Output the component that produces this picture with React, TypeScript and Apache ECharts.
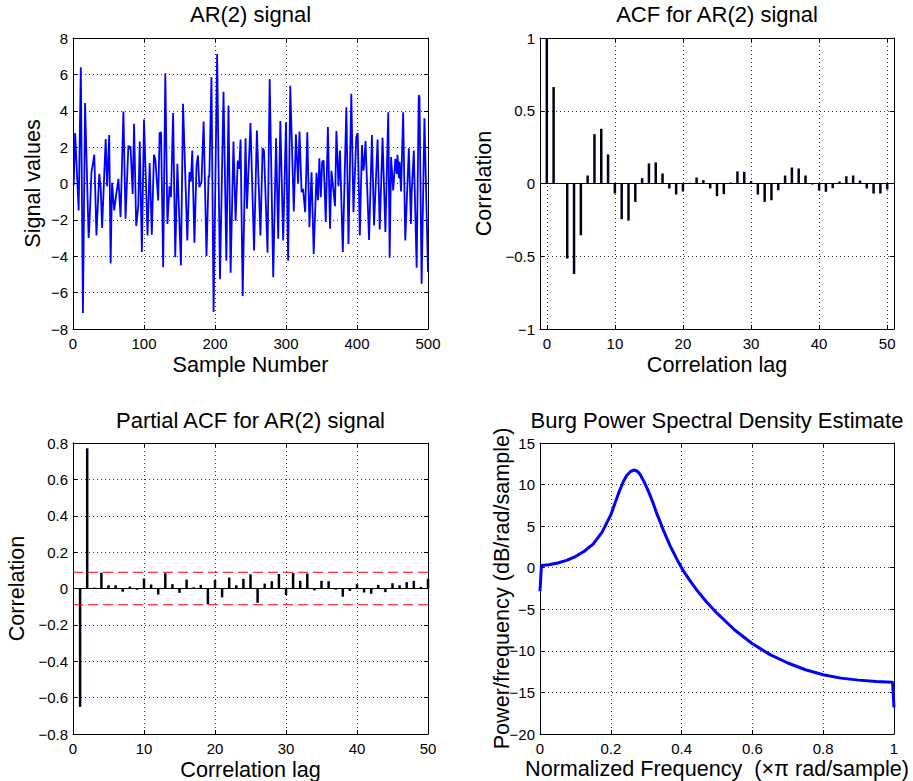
import React, { useEffect, useRef } from 'react';
import * as echarts from 'echarts';

// ---------- data ----------
const signalSamples = [
  1, 3, 8, 11, 14, 17, 22, 23, 26, 28,
  30, 33, 37, 39, 41, 46, 48, 51, 53, 55,
  58, 61, 64, 67, 71, 74, 78, 79, 81, 84,
  86, 89, 92, 94, 97, 100, 105, 108, 111, 114,
  116, 120, 122, 124, 127, 130, 133, 136, 138, 141,
  144, 147, 152, 155, 161, 164, 166, 168, 171, 174,
  176, 178, 181, 184, 188, 191, 192, 195, 198, 203,
  207, 212, 216, 219, 222, 226, 229, 232, 234, 236,
  239, 243, 245, 250, 255, 259, 264, 267, 269, 274,
  277, 282, 286, 289, 292, 296, 300, 303, 306, 311,
  314, 317, 319, 322, 324, 327, 330, 333, 336, 339,
  343, 345, 347, 349, 351, 353, 356, 359, 362, 364,
  369, 371, 374, 376, 380, 385, 388, 392, 395, 399,
  401, 404, 407, 409, 410, 412, 417, 421, 424, 429,
  432, 436, 440, 444, 446, 448, 451, 454, 456, 457,
  459, 460, 462, 465, 468, 473, 476, 477, 480, 484,
  487, 488, 491, 495, 500,
];
const signalValues = [
  -0.11, 2.78, -1.48, 6.39, -7.12, 4.43, -3.0, -2.42, 0.62, 1.08,
  1.58, -2.86, 0.53, -0.2, -2.45, 2.45, -0.15, 2.67, -4.4, 0.04,
  -1.48, -0.57, 0.26, -1.85, 3.96, -1.94, 2.09, 1.9, 2.05, -0.57,
  3.28, -2.34, -1.21, 2.31, -3.77, 3.52, -2.86, 1.12, -2.82, 1.58,
  1.32, -0.93, 2.78, 2.82, -4.6, 6.06, -2.23, -0.15, -0.75, 3.88,
  -4.05, 1.08, -4.5, 4.38, -3.13, 0.62, 0.1, 1.81, -3.26, 0.99,
  1.54, -0.2, 0.07, 3.41, -3.99, 0.44, 0.35, 5.84, -7.07, 7.12,
  -5.27, 5.05, -4.25, 4.29, -4.91, 2.31, -2.05, 1.26, 0.8, 2.42,
  -6.19, 2.49, -1.39, 3.32, -3.68, 2.91, -2.86, 1.94, 1.81, -3.81,
  5.75, -5.15, 2.49, -3.04, 3.44, -3.13, 3.37, -4.25, 5.38, -1.54,
  2.71, 0.0, 2.86, -0.48, -0.3, -1.58, 2.82, -2.4, 0.62, -3.88,
  0.59, -0.92, 1.39, -0.75, 1.21, 1.26, -2.12, 3.1, -2.49, 0.7,
  -1.25, 2.88, -0.15, 1.81, -3.77, 4.19, -3.32, 4.93, -1.58, 2.55,
  2.77, -2.86, 2.12, 0.71, 1.0, 2.34, -3.11, 2.67, -2.31, 2.42,
  -2.53, 2.51, -2.67, 3.92, -4.08, 1.45, -0.38, 1.36, 0.53, 1.58,
  0.29, 1.2, -0.44, 3.92, -3.13, 1.94, -2.22, -0.5, 1.81, -4.63,
  4.87, 4.74, -5.51, 3.59, -4.87,
];

const acfLags = [
  0, 1, 2, 3, 4, 5, 6, 7, 8, 9, 10, 11, 12, 13, 14, 15, 16, 17, 18, 19, 20,
  21, 22, 23, 24, 25, 26, 27, 28, 29, 30, 31, 32, 33, 34, 35, 36, 37, 38, 39, 40,
  41, 42, 43, 44, 45, 46, 47, 48, 49, 50,
];
const acfValues = [
  1.0, 0.663, 0.0, -0.516, -0.622, -0.356, 0.055, 0.339, 0.376, 0.2,
  -0.069, -0.245, -0.255, -0.126, 0.037, 0.138, 0.145, 0.069, -0.034, -0.076,
  -0.055, 0.005, 0.041, 0.023, -0.034, -0.087, -0.073, 0.007, 0.083, 0.08,
  0.016, -0.076, -0.126, -0.115, -0.046, 0.055, 0.11, 0.103, 0.055, -0.007,
  -0.048, -0.057, -0.032, 0.014, 0.05, 0.055, 0.021, -0.034, -0.069, -0.069,
  -0.041,
];

const pacfLags = [
  1, 2, 3, 4, 5, 6, 7, 8, 9, 10, 11, 12, 13, 14, 15, 16, 17, 18, 19, 20,
  21, 22, 23, 24, 25, 26, 27, 28, 29, 30, 31, 32, 33, 34, 35, 36, 37, 38, 39, 40,
  41, 42, 43, 44, 45, 46, 47, 48, 49, 50,
];
const pacfValues = [
  -0.651, 0.771, 0.005, 0.087, 0.018, 0.018, -0.018, 0.011, -0.007, 0.055,
  0.022, -0.033, 0.084, 0.024, -0.024, 0.049, 0.007, 0.02, -0.087, 0.047,
  -0.049, 0.06, 0.018, 0.053, 0.078, -0.078, 0.027, 0.04, 0.08, -0.036,
  0.085, 0.042, 0.082, -0.011, 0.042, 0.04, -0.007, -0.045, -0.013, 0.024,
  -0.022, -0.029, 0.02, -0.02, 0.029, 0.018, 0.035, 0.042, 0.009, 0.053,
];
const pacfBoundUpper = 0.0894;
const pacfBoundLower = -0.0894;
const pacfBoundLags = [0, 50];

const psdFreq = [
  0, 0.004, 0.025, 0.05, 0.075, 0.1, 0.125, 0.15, 0.175, 0.2,
  0.213, 0.226, 0.236, 0.245, 0.255, 0.265, 0.275, 0.283, 0.292, 0.302,
  0.311, 0.321, 0.33, 0.34, 0.349, 0.368, 0.387, 0.406, 0.425, 0.443,
  0.47, 0.5, 0.55, 0.6, 0.65, 0.7, 0.75, 0.8, 0.85, 0.9,
  0.95, 0.996, 1.0,
];
const psdPower = [
  -2.83, 0.28, 0.36, 0.57, 0.89, 1.34, 1.98, 2.83, 4.25, 6.35,
  7.9, 9.4, 10.4, 11.1, 11.55, 11.75, 11.6, 11.2, 10.5, 9.6,
  8.7, 7.6, 6.5, 5.45, 4.45, 2.6, 1.0, -0.45, -1.65, -2.7,
  -4.1, -5.47, -7.49, -9.15, -10.45, -11.46, -12.27, -12.87, -13.28, -13.52,
  -13.68, -13.77, -16.8,
];

const titles = [
  'AR(2) signal',
  'ACF for AR(2) signal',
  'Partial ACF for AR(2) signal',
  'Burg Power Spectral Density Estimate',
];
const xNames = [
  'Sample Number',
  'Correlation lag',
  'Correlation lag',
  'Normalized Frequency  (\u00d7\u03c0 rad/sample)',
];
const yNames = [
  'Signal values',
  'Correlation',
  'Correlation',
  'Power/frequency (dB/rad/sample)',
];

// ---------- styling ----------
const FONT = "'Liberation Sans', Arial, Helvetica, sans-serif";
const TITLE_SIZE = 22;
const NAME_SIZE = 21.6;
const GRIDS = [
  { left: 73, top: 38, width: 355, height: 291 },
  { left: 540, top: 38, width: 354, height: 291 },
  { left: 73, top: 443, width: 355, height: 291 },
  { left: 540, top: 443, width: 354, height: 291 },
];

function fmtNum(v: number): string {
  const r = Math.round(v * 1000) / 1000;
  const s = String(Math.abs(r));
  return r < 0 ? '\u2212' + s : s;
}

function makeAxes(
  kind: 'x' | 'y',
  grid: number,
  min: number,
  max: number,
  interval: number | undefined,
  name: string,
  nameGap: number,
  formatter: (v: number) => string = fmtNum,
) {
  const base: any = {
    type: 'value',
    gridIndex: grid,
    min,
    max,
    axisLine: { show: true, onZero: false, lineStyle: { color: '#000', width: 1 } },
    axisTick: { show: true, inside: true, length: 4, lineStyle: { color: '#000', width: 1 } },
    splitLine: { show: false },
    axisLabel: { show: false },
  };
  if (interval !== undefined) base.interval = interval;
  else base.splitNumber = 5;
  const main = {
    ...base,
    position: kind === 'x' ? 'bottom' : 'left',
    name,
    nameLocation: 'middle',
    nameGap,
    nameMoveOverlap: false,
    nameTextStyle: { fontSize: NAME_SIZE, fontFamily: FONT, color: '#000' },
    axisLabel: {
      show: true,
      fontSize: 15,
      fontFamily: FONT,
      color: '#000',
      margin: kind === 'x' ? 7 : 5,
      formatter,
    },
    splitLine: { show: true, lineStyle: { color: '#3a3a3a', width: 1, type: [1, 3] } },
  };
  const mirror = { ...base, position: kind === 'x' ? 'top' : 'right' };
  return [main, mirror];
}

const zeroLine = {
  silent: true,
  symbol: 'none',
  label: { show: false },
  lineStyle: { color: '#000', width: 1, type: 'solid' },
  data: [{ yAxis: 0 }],
};

export default function App() {
  const ref = useRef<HTMLDivElement>(null);
  useEffect(() => {
    if (!ref.current) return;
    const chart = echarts.init(ref.current, undefined, { renderer: 'svg' });
    const xAxes = [
      ...makeAxes('x', 0, 0, 500, 100, xNames[0], 24),
      ...makeAxes('x', 1, -1, 51, undefined, xNames[1], 24, (v: number) =>
        Math.abs(v % 10) < 1e-9 ? fmtNum(v) : ''),
      ...makeAxes('x', 2, 0, 50, 10, xNames[2], 24),
      ...makeAxes('x', 3, 0, 1, 0.2, xNames[3], 23),
    ];
    const yAxes = [
      ...makeAxes('y', 0, -8, 8, 2, yNames[0], 30),
      ...makeAxes('y', 1, -1, 1, 0.5, yNames[1], 46),
      ...makeAxes('y', 2, -0.8, 0.8, 0.2, yNames[2], 46),
      ...makeAxes('y', 3, -20, 15, 5, yNames[3], 28),
    ];
    const centers = GRIDS.map((g) => g.left + g.width / 2);
    chart.setOption({
      animation: false,
      backgroundColor: '#fff',
      title: titles.map((t, i) => ({
        text: t,
        left: centers[i],
        top: i < 2 ? 3 : 409,
        padding: 0,
        textAlign: 'center',
        textStyle: { fontSize: TITLE_SIZE, fontWeight: 'normal', fontFamily: FONT, color: '#000' },
      })),
      grid: GRIDS.map((g) => ({ ...g, containLabel: false })),
      xAxis: xAxes,
      yAxis: yAxes,
      series: [
        {
          type: 'line',
          xAxisIndex: 0,
          yAxisIndex: 0,
          data: signalSamples.map((s, i) => [s, signalValues[i]]),
          showSymbol: false,
          symbol: 'none',
          lineStyle: { color: '#0000ff', width: 1.8 },
          clip: true,
        },
        {
          type: 'bar',
          xAxisIndex: 2,
          yAxisIndex: 2,
          data: acfLags.map((l, i) => [l, acfValues[i]]),
          barWidth: 2.5,
          itemStyle: { color: '#00001a' },
          markLine: zeroLine,
        },
        {
          type: 'bar',
          xAxisIndex: 4,
          yAxisIndex: 4,
          data: pacfLags.map((l, i) => [l, pacfValues[i]]),
          barWidth: 2.5,
          itemStyle: { color: '#00001a' },
          markLine: zeroLine,
        },
        {
          type: 'line',
          xAxisIndex: 4,
          yAxisIndex: 4,
          data: pacfBoundLags.map((l) => [l, pacfBoundUpper]),
          symbol: 'none',
          lineStyle: { color: '#ff0000', width: 1.2, type: [10, 5] },
        },
        {
          type: 'line',
          xAxisIndex: 4,
          yAxisIndex: 4,
          data: pacfBoundLags.map((l) => [l, pacfBoundLower]),
          symbol: 'none',
          lineStyle: { color: '#ff0000', width: 1.2, type: [10, 5] },
        },
        {
          type: 'line',
          xAxisIndex: 6,
          yAxisIndex: 6,
          data: psdFreq.map((f, i) => [f, psdPower[i]]),
          symbol: 'none',
          lineStyle: { color: '#0000ff', width: 3 },
          clip: true,
        },
      ],
    });
    return () => chart.dispose();
  }, []);
  return (
    <div
      ref={ref}
      style={{ position: 'absolute', left: 0, top: 0, width: 913, height: 781, background: '#fff' }}
    />
  );
}
